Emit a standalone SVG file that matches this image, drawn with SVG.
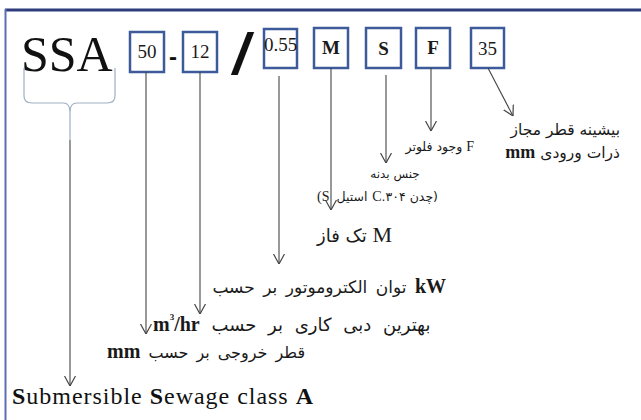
<svg xmlns="http://www.w3.org/2000/svg" width="641" height="420" viewBox="0 0 641 420">
<style>
.box{fill:#fff;stroke:#3d5b9b;stroke-width:2.5}
.bt{font-family:"Liberation Serif",serif;font-size:19px;fill:#1a1a1a;text-anchor:middle}
.conn{stroke:#444;stroke-width:1.1;fill:none}
.fa{font-family:"DejaVu Sans","Noto Sans",sans-serif;fill:#1a1a1a}
.unit{font-family:"Liberation Serif",serif;font-weight:bold}
.ser{font-family:"Liberation Serif",serif}
</style>
<defs>
<marker id="arr" viewBox="0 0 10 12" refX="10" refY="6" markerWidth="10" markerHeight="12" markerUnits="userSpaceOnUse" orient="auto">
<path d="M0,0.5 L10,6 L0,11.5" fill="none" stroke="#444" stroke-width="1.2"/>
</marker>
</defs>
<rect width="641" height="420" fill="#fff"/>
<g id="frame">
<line x1="5" y1="10" x2="641" y2="10" stroke="#2d3c7c" stroke-width="3"/>
<line x1="5.5" y1="9" x2="5.5" y2="420" stroke="#5d6db5" stroke-width="2"/>
</g>
<g id="code">
<text x="21" y="71" font-family="'Liberation Serif',serif" font-size="50" fill="#111">SSA</text>
<text x="173" y="65" font-family="'Liberation Sans',sans-serif" font-weight="bold" font-size="24" text-anchor="middle" fill="#111">-</text>
<text x="241" y="74" font-family="'Liberation Sans',sans-serif" font-weight="bold" font-style="italic" font-size="58" text-anchor="middle" fill="#111">/</text>
</g>
<g id="box-50"><rect class="box" x="130" y="32" width="34" height="40"/><text class="bt" x="147" y="58">50</text></g>
<g id="box-12"><rect class="box" x="183" y="32" width="34" height="40"/><text class="bt" x="200" y="58">12</text></g>
<g id="box-055"><rect class="box" x="264" y="29" width="33" height="39"/><text class="bt" x="280.5" y="51" font-size="11">0.55</text></g>
<g id="box-M"><rect class="box" x="314" y="28" width="34" height="40"/><text class="bt" x="331" y="54" font-weight="bold">M</text></g>
<g id="box-S"><rect class="box" x="366" y="28" width="35" height="40"/><text class="bt" x="383.5" y="55" font-weight="bold">S</text></g>
<g id="box-F"><rect class="box" x="416" y="28" width="34" height="40"/><text class="bt" x="433" y="54" font-weight="bold">F</text></g>
<g id="box-35"><rect class="box" x="471" y="28" width="33" height="40"/><text class="bt" x="487.5" y="55">35</text></g>
<g id="connectors">
<path d="M24,68 L24,96 Q24,103 32,103 L63,103 Q70,103 70,112 L70,140 M115,68 L115,96 Q115,103 107,103 L77,103 Q70,103 70,112" fill="none" stroke="#9fb0c4" stroke-width="1.2"/>
<line class="conn" x1="70" y1="140" x2="70" y2="386" marker-end="url(#arr)"/>
<line class="conn" x1="146" y1="72" x2="146" y2="334" marker-end="url(#arr)"/>
<line class="conn" x1="200" y1="72" x2="200" y2="314" marker-end="url(#arr)"/>
<line class="conn" x1="279" y1="76" x2="279" y2="264" marker-end="url(#arr)"/>
<line class="conn" x1="331" y1="68" x2="331" y2="210" marker-end="url(#arr)"/>
<line class="conn" x1="386" y1="75" x2="386" y2="163" marker-end="url(#arr)"/>
<line class="conn" x1="431" y1="68" x2="431" y2="131" marker-end="url(#arr)"/>
<line class="conn" x1="488" y1="68" x2="513" y2="116" marker-end="url(#arr)"/>
</g>
<g id="label-35">
<text class="fa" x="620" y="135" font-size="15.5" text-anchor="end">بیشینه قطر مجاز</text>
<text class="fa" x="620" y="158" font-size="15.5" text-anchor="end"><tspan class="unit" font-size="18">mm</tspan> ذرات ورودی</text>
</g>
<g id="label-F"><text class="fa" x="474" y="151" font-size="12.5" text-anchor="end">وجود فلوتر <tspan class="ser" font-size="14">F</tspan></text></g>
<g id="label-S">
<text class="fa" x="395" y="178" font-size="12" text-anchor="middle">جنس بدنه</text>
<text class="ser" x="317" y="201" font-size="14" fill="#1a1a1a">(S</text>
<text class="fa" x="352" y="201" font-size="12.5" text-anchor="middle">استیل</text>
<text class="fa" x="389" y="201" font-size="12.5" text-anchor="middle"><tspan class="ser" font-size="14">C</tspan>.۳۰۴</text>
<text class="fa" x="438" y="201" font-size="12.5" text-anchor="end">چدن)</text>
</g>
<g id="label-M"><text class="fa" x="392" y="242" font-size="18" text-anchor="end">تک فاز <tspan class="ser" font-size="22">M</tspan></text></g>
<g id="label-kW"><text class="fa" x="446" y="293" font-size="17" word-spacing="3" text-anchor="end">توان الکتروموتور بر حسب <tspan class="unit" font-size="20">kW</tspan></text></g>
<g id="label-flow"><text class="fa" x="153" y="331" font-size="18" word-spacing="6"><tspan class="unit" font-size="20">m</tspan><tspan class="unit" font-size="9" dy="-11">3</tspan><tspan class="unit" font-size="20" dy="11">/hr</tspan> بهترین دبی کاری بر حسب</text></g>
<g id="label-outlet"><text class="fa" x="107" y="358" font-size="16" word-spacing="3"><tspan class="unit" font-size="20">mm</tspan> قطر خروجی بر حسب</text></g>
<g id="label-class"><text x="12" y="404" font-family="'Liberation Serif',serif" font-size="24" fill="#111" textLength="301"><tspan font-weight="bold">S</tspan>ubmersible  <tspan font-weight="bold">S</tspan>ewage  class  <tspan font-weight="bold">A</tspan></text></g>
</svg>
